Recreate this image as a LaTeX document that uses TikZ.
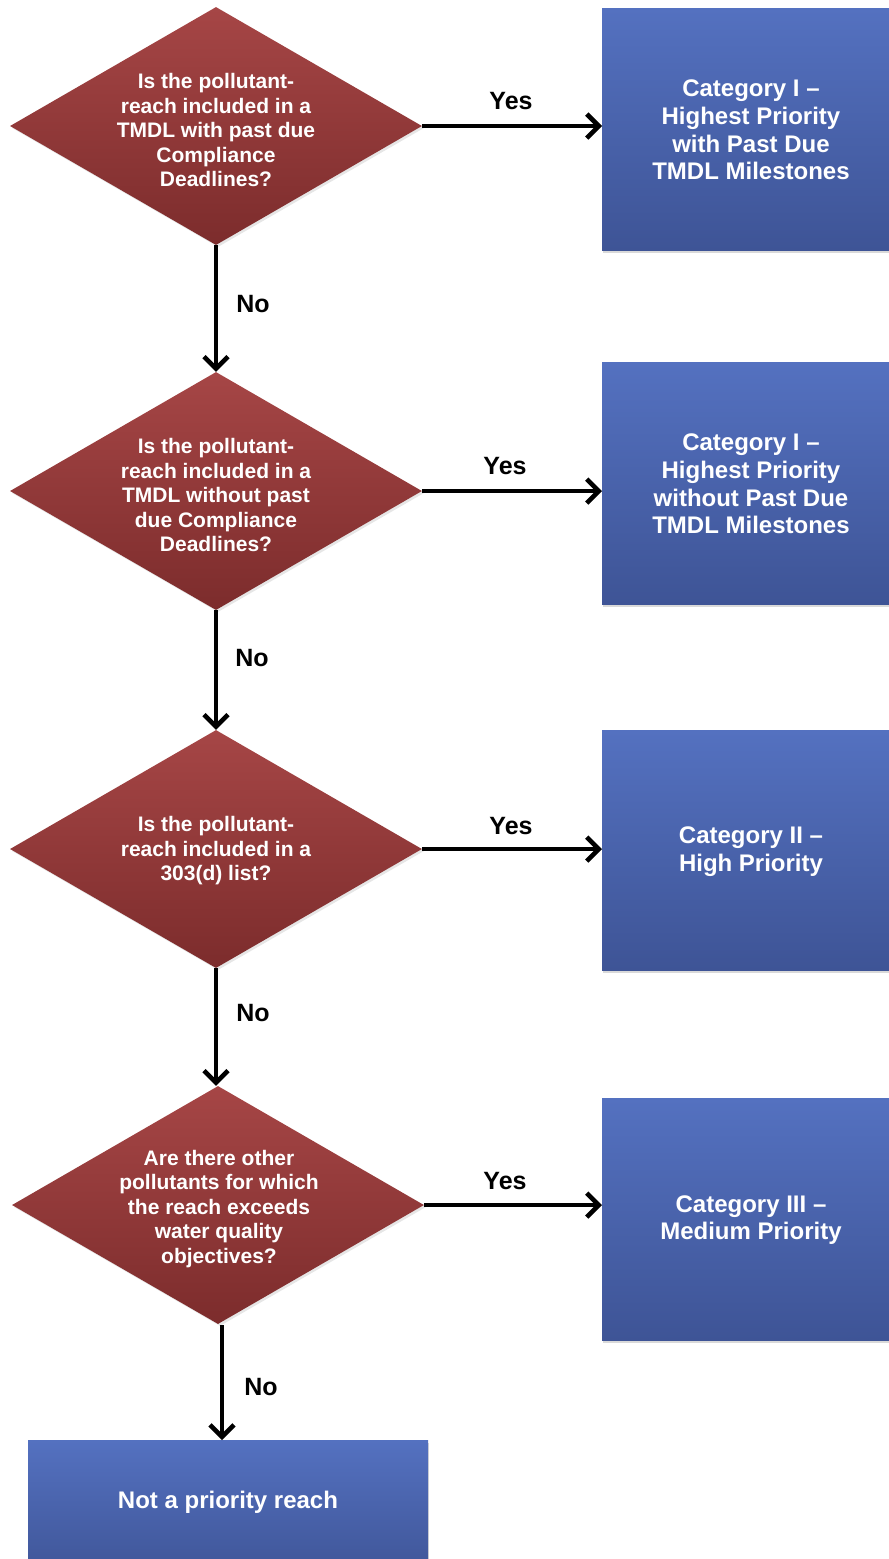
\documentclass[tikz,border=0pt]{standalone}
\usepackage{fontspec}
\setmainfont{Liberation Sans}
\usetikzlibrary{shapes.geometric,arrows.meta,shadows}
\definecolor{redtop}{RGB}{166,70,70}
\definecolor{redbot}{RGB}{124,44,44}
\definecolor{bluetop}{RGB}{84,113,192}
\definecolor{bluebot}{RGB}{62,84,150}
\tikzset{
  dia/.style={diamond, draw=none, inner sep=0pt, minimum width=412pt, minimum height=238pt,
    top color=redtop, bottom color=redbot, drop shadow={shadow xshift=2pt, shadow yshift=-2pt, opacity=0.2}},
  catbox/.style={rectangle, draw=none, inner sep=0pt, anchor=north west,
    top color=bluetop, bottom color=bluebot, drop shadow={shadow xshift=1pt, shadow yshift=-3pt, opacity=0.3}},
  dtext/.style={text=white, font=\fontsize{21}{24.5}\selectfont\bfseries, align=center},
  btext/.style={text=white, font=\fontsize{24}{27.8}\selectfont\bfseries, align=center},
  lab/.style={text=black, font=\fontsize{25}{28}\selectfont\bfseries},
  arr/.style={line width=4.6pt, -{Straight Barb[length=12pt,width=24pt]}}
}
\begin{document}
\begin{tikzpicture}[x=1pt,y=-1pt]
\useasboundingbox (0,0) rectangle (889,1559);
\clip (0,0) rectangle (889,1559);
% diamonds
\node[dia] (d1) at (216,126) {};
\node[dia] (d2) at (216,491) {};
\node[dia] (d3) at (216,849) {};
\node[dia] (d4) at (218,1205) {};
\node[dtext] (t1) at (216,130) {Is the pollutant-\\reach included in a\\TMDL with past due\\Compliance\\Deadlines?};
\node[dtext] (t2) at (216,495) {Is the pollutant-\\reach included in a\\TMDL without past\\due Compliance\\Deadlines?};
\node[dtext] (t3) at (216,851) {Is the pollutant-\\reach included in a\\303(d) list?};
\node[dtext] (t4) at (219,1209) {Are there other\\pollutants for which\\the reach exceeds\\water quality\\objectives?};
% boxes
\node[catbox, minimum width=300pt, minimum height=242pt] (b1) at (602,8) {};
\node[catbox, minimum width=300pt, minimum height=242pt] (b2) at (602,362) {};
\node[catbox, minimum width=300pt, minimum height=240pt] (b3) at (602,730) {};
\node[catbox, minimum width=300pt, minimum height=242pt] (b4) at (602,1098) {};
\node[catbox, minimum width=400pt, minimum height=140pt] (b5) at (28,1440) {};
\node[btext] (s1) at (751,130) {Category I –\\Highest Priority\\with Past Due\\TMDL Milestones};
\node[btext] (s2) at (751,484) {Category I –\\Highest Priority\\without Past Due\\TMDL Milestones};
\node[btext] (s3) at (751,852) {Category II –\\High Priority};
\node[btext] (s4) at (751,1220) {Category III –\\Medium Priority};
\node[btext] (s5) at (228,1502) {Not a priority reach};
% yes arrows
\draw[arr] (d1.east) -- (d1.east -| b1.west);
\draw[arr] (d2.east) -- (d2.east -| b2.west);
\draw[arr] (d3.east) -- (d3.east -| b3.west);
\draw[arr] (d4.east) -- (d4.east -| b4.west);
\node[lab] (y1) at (511,101) {Yes};
\node[lab] (y2) at (505,466) {Yes};
\node[lab] (y3) at (511,826) {Yes};
\node[lab] (y4) at (505,1181) {Yes};
% no arrows
\draw[arr] (d1.south) -- (d2.north);
\draw[arr] (d2.south) -- (d3.north);
\draw[arr] (d3.south) -- (d3.south |- d4.north);
\coordinate (c5) at (222,1325);
\draw[arr] (c5) -- (c5 |- b5.north);
\node[lab] (n1) at (253,304) {No};
\node[lab] (n2) at (252,658) {No};
\node[lab] (n3) at (253,1013) {No};
\node[lab] (n4) at (261,1387) {No};
\end{tikzpicture}
\end{document}
